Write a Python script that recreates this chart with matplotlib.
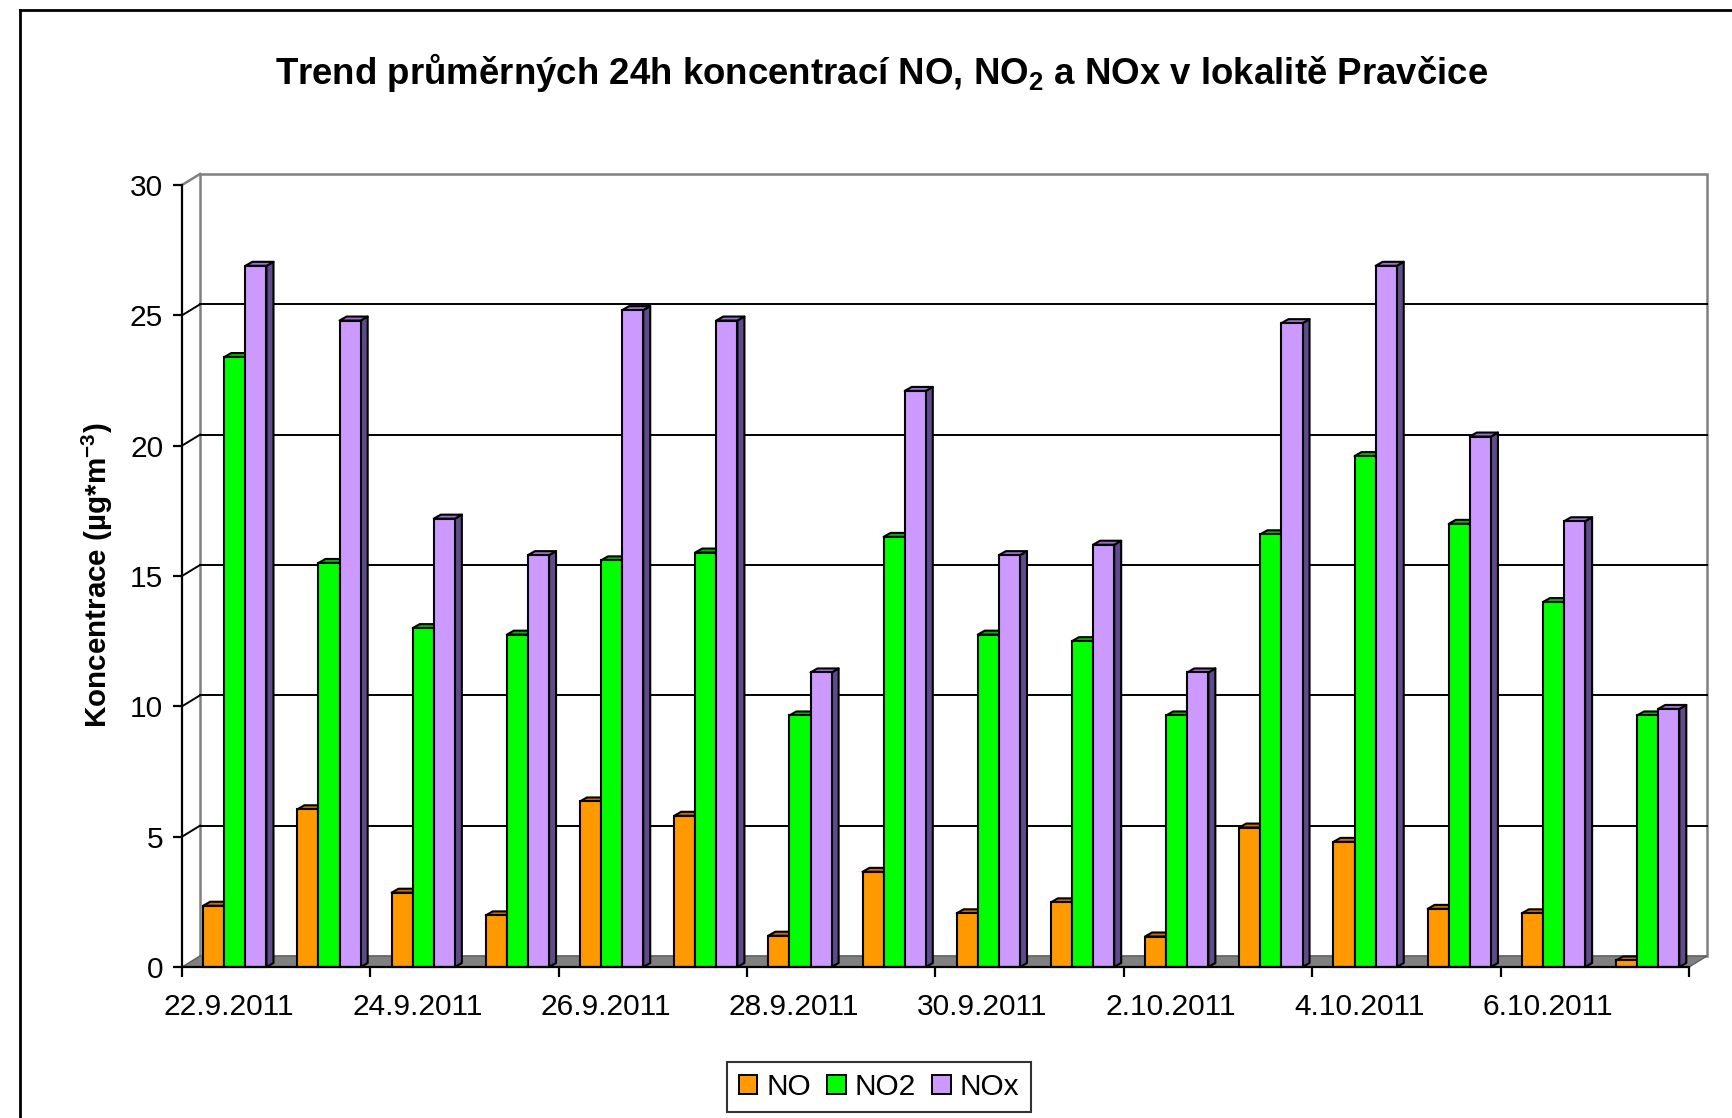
import numpy as np
import matplotlib
matplotlib.use("Agg")
import matplotlib.pyplot as plt
from matplotlib.patches import Polygon, Patch
from matplotlib.collections import PolyCollection
from matplotlib.lines import Line2D

plt.rcParams['font.family'] = ['Liberation Sans', 'DejaVu Sans']
plt.rcParams['mathtext.fontset'] = 'custom'
plt.rcParams['mathtext.rm'] = 'Liberation Sans'
plt.rcParams['mathtext.bf'] = 'Liberation Sans:bold'
plt.rcParams['mathtext.default'] = 'bf'

# data (ug/m3)
dates = ['22.9.2011', '23.9.2011', '24.9.2011', '25.9.2011', '26.9.2011', '27.9.2011',
         '28.9.2011', '29.9.2011', '30.9.2011', '1.10.2011', '2.10.2011', '3.10.2011',
         '4.10.2011', '5.10.2011', '6.10.2011', '7.10.2011']
no = [2.35, 6.05, 2.85, 1.98, 6.35, 5.8, 1.2, 3.65, 2.06, 2.48, 1.17, 5.35, 4.8, 2.23, 2.06, 0.25]
no2 = [23.4, 15.5, 13.0, 12.75, 15.6, 15.9, 9.65, 16.5, 12.75, 12.5, 9.65, 16.6, 19.6, 17.0, 14.0, 9.65]
nox = [26.9, 24.8, 17.2, 15.8, 25.2, 24.8, 11.3, 22.1, 15.8, 16.2, 11.3, 24.7, 26.9, 20.35, 17.1, 9.9]

# name, values, front colour, top colour, side colour
series = [
    ('NO', no, '#FF9900', '#C07400', '#9C5E00'),
    ('NO2', no2, '#00FF00', '#00B800', '#009000'),
    ('NOx', nox, '#CC99FF', '#9B72CC', '#5F4B8B'),
]

W, H = 1733, 1118
fig = plt.figure(figsize=(W / 100, H / 100), dpi=100)
ax = fig.add_axes([182 / W, 151 / H, 1507 / W, 782 / H])
n = len(dates)
ymax = 30
ax.set_xlim(0, n)
ax.set_ylim(0, ymax)

# 3D depth in data units (pixels / pixels-per-unit)
px_x = 1507 / n
px_y = 782 / ymax
wdx, wdy = 18 / px_x, 11 / px_y     # back wall offset
bdx, bdy = 7 / px_x, 4 / px_y       # bar depth

gray = '#808080'

# back wall
ax.add_patch(Polygon([(wdx, wdy), (n + wdx, wdy), (n + wdx, ymax + wdy), (wdx, ymax + wdy)],
                     closed=True, facecolor='white', edgecolor=gray, lw=1.8,
                     clip_on=False, zorder=0.5))
for v in range(5, ymax, 5):
    ax.plot([wdx, n + wdx], [v + wdy, v + wdy], color='black', lw=1.4, zorder=0.6, clip_on=False)
    ax.plot([0, wdx], [v, v + wdy], color='black', lw=1.4, zorder=0.6, clip_on=False)
ax.plot([0, wdx], [ymax, ymax + wdy], color=gray, lw=1.8, zorder=0.6, clip_on=False)

# floor
ax.add_patch(Polygon([(0, 0), (n, 0), (n + wdx, wdy), (wdx, wdy)], closed=True,
                     facecolor=gray, edgecolor='#606060', lw=1.0, clip_on=False, zorder=1))

# bars
bw = 0.224
start = 0.225
idx = np.arange(n)
for k, (name, vals, c_front, c_top, c_side) in enumerate(series):
    x0 = idx + start + k * bw
    vals = np.asarray(vals)
    z = 3 + k
    tops = [[(x, v), (x + bw, v), (x + bw + bdx, v + bdy), (x + bdx, v + bdy)] for x, v in zip(x0, vals)]
    sides = [[(x + bw, 0), (x + bw, v), (x + bw + bdx, v + bdy), (x + bw + bdx, bdy)] for x, v in zip(x0, vals)]
    ax.add_collection(PolyCollection(sides, facecolors=c_side, edgecolors='black', linewidths=1.5,
                                     zorder=z, clip_on=False))
    ax.add_collection(PolyCollection(tops, facecolors=c_top, edgecolors='black', linewidths=1.5,
                                     zorder=z, clip_on=False))
    ax.bar(x0, vals, width=bw, align='edge', color=c_front, edgecolor='black', lw=1.5,
           zorder=z, clip_on=False)

# axes
for s in ['top', 'right']:
    ax.spines[s].set_visible(False)
for s in ['left', 'bottom']:
    ax.spines[s].set_linewidth(1.6)
    ax.spines[s].set_zorder(10)

ax.set_yticks(range(0, ymax + 1, 5))
ax.tick_params(axis='y', direction='out', length=6.5, width=1.6, pad=7, labelsize=21.5)
ax.set_xticks(range(0, n + 1, 2))
ax.set_xticklabels([])
ax.set_xticks(np.arange(0, n, 2) + 0.5, minor=True)
ax.set_xticklabels(dates[::2], minor=True)
ax.tick_params(axis='x', which='major', direction='out', length=7, width=1.6)
ax.tick_params(axis='x', which='minor', length=0, pad=19, labelsize=21.5)

fig.text(97 / W, 1 - 575 / H, 'Koncentrace (µg*m$^{-3}$)', rotation=90,
         ha='center', va='center', fontsize=21.3, fontweight='bold')
fig.text(882 / W, 1 - 72 / H,
         'Trend průměrných 24h koncentrací NO, NO$_2$ a NOx v lokalitě Pravčice',
         ha='center', va='center', fontsize=26.4, fontweight='bold')

handles = [Patch(facecolor=s[2], edgecolor='black', lw=1.4) for s in series]
leg = fig.legend(handles, [s[0] for s in series], loc='center',
                 bbox_to_anchor=(879 / W, 1 - 1087 / H), ncol=3, frameon=True,
                 fancybox=False, edgecolor='black', fontsize=21.5,
                 handlelength=0.62, handleheight=0.62, handletextpad=0.3,
                 columnspacing=0.55, borderpad=0.38)
leg.get_frame().set_linewidth(1.5)

# outer chart border (top and left only visible)
fig.add_artist(Line2D([20 / W, 1], [1 - 10 / H, 1 - 10 / H], transform=fig.transFigure,
                      color='black', lw=2))
fig.add_artist(Line2D([20 / W, 20 / W], [0, 1 - 10 / H], transform=fig.transFigure,
                      color='black', lw=2))

fig.savefig('out.png', dpi=100)
